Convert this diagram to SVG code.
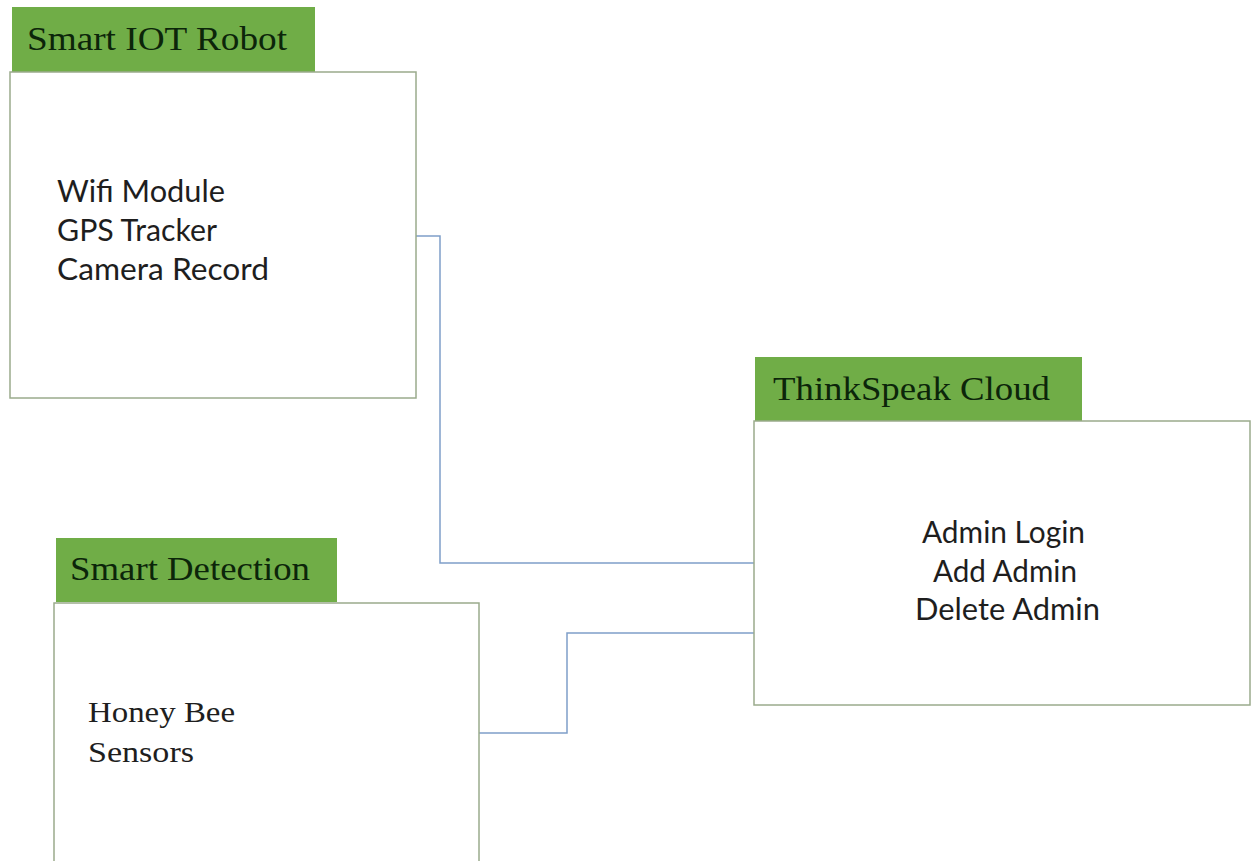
<svg xmlns="http://www.w3.org/2000/svg" width="1251" height="861" viewBox="0 0 1251 861">
<style>
.hdr{fill:#70ad47}
.box{fill:#ffffff;stroke:#9aab8c;stroke-width:1.5}
.title{font-family:"Liberation Serif","Times New Roman",serif;font-size:34px;fill:#0c250a}
.body{font-family:Lato,"Open Sans",sans-serif;font-size:30px;fill:#1e1e1e}
.serif{font-family:"Liberation Serif","Times New Roman",serif;font-size:30px;fill:#1e1e1e}
.conn{fill:none;stroke:#7f9fc9;stroke-width:1.5}
</style>
<rect width="1251" height="861" fill="#ffffff"/>
<g id="connectors">
<polyline class="conn" points="416,236 440,236 440,563 754,563"/>
<polyline class="conn" points="479,733 567,733 567,633 754,633"/>
</g>
<g id="smart-iot-robot">
<rect class="hdr" x="12" y="7" width="303" height="65"/>
<rect class="box" x="10" y="72" width="406" height="326"/>
<text class="title" x="27" y="50" textLength="260" lengthAdjust="spacingAndGlyphs">Smart IOT Robot</text>
<text class="body" x="57" y="202" textLength="168" lengthAdjust="spacingAndGlyphs">Wifi Module</text>
<text class="body" x="57" y="241" textLength="160" lengthAdjust="spacingAndGlyphs">GPS Tracker</text>
<text class="body" x="57" y="280" textLength="212" lengthAdjust="spacingAndGlyphs">Camera Record</text>
</g>
<g id="thinkspeak-cloud">
<rect class="hdr" x="755" y="357" width="327" height="64"/>
<rect class="box" x="754" y="421" width="496" height="284"/>
<text class="title" x="773" y="400" textLength="277" lengthAdjust="spacingAndGlyphs">ThinkSpeak Cloud</text>
<text class="body" x="922" y="543" textLength="163" lengthAdjust="spacingAndGlyphs">Admin Login</text>
<text class="body" x="933" y="582" textLength="144" lengthAdjust="spacingAndGlyphs">Add Admin</text>
<text class="body" x="915" y="620" textLength="185" lengthAdjust="spacingAndGlyphs">Delete Admin</text>
</g>
<g id="smart-detection">
<rect class="hdr" x="56" y="538" width="281" height="64"/>
<rect class="box" x="54" y="603" width="425" height="270"/>
<text class="title" x="70" y="580" textLength="240" lengthAdjust="spacingAndGlyphs">Smart Detection</text>
<text class="serif" x="88" y="722" textLength="147" lengthAdjust="spacingAndGlyphs">Honey Bee</text>
<text class="serif" x="88" y="762" textLength="106" lengthAdjust="spacingAndGlyphs">Sensors</text>
</g>
</svg>
